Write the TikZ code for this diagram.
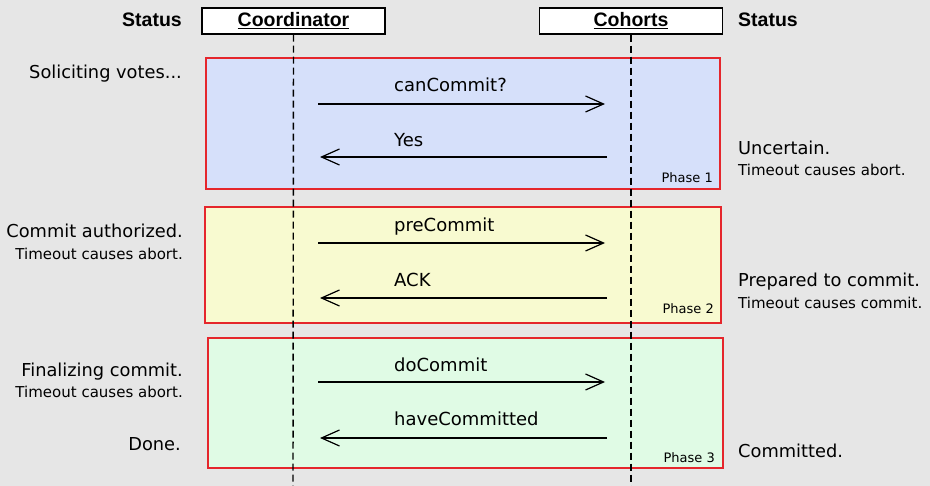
\documentclass[tikz,border=0pt]{standalone}
\usepackage{fontspec}
\setmainfont{DejaVu Sans}
\newfontfamily\headfont{Liberation Sans}
\usetikzlibrary{arrows.meta, positioning}
\definecolor{bggray}{HTML}{E6E6E6}
\definecolor{phasered}{HTML}{E5262C}
\definecolor{phaseblue}{HTML}{D6E0FA}
\definecolor{phaseyellow}{HTML}{F8FAD0}
\definecolor{phasegreen}{HTML}{E0FBE5}

\begin{document}
\begin{tikzpicture}[x=1pt, y=-1pt,
  role/.style={draw, fill=white, line width=1.3pt, minimum width=183pt, minimum height=26pt, inner sep=0pt, font=\headfont\bfseries\fontsize{19.5}{20}\selectfont},
  heading/.style={inner sep=0pt, font=\headfont\bfseries\fontsize{19.5}{20}\selectfont},
  phase/.style={draw=phasered, line width=1.6pt, anchor=north west, inner sep=0pt},
  phasetag/.style={inner sep=0pt, anchor=base east, font=\fontsize{13}{14}\selectfont},
  msg/.style={line width=1.2pt, -{Straight Barb[length=18pt, width=16pt]}},
  msgtext/.style={inner sep=0pt, anchor=base west, font=\fontsize{18}{20}\selectfont},
  status/.style={inner sep=0pt, font=\fontsize{17.8}{20}\selectfont},
  note/.style={inner sep=0pt, font=\fontsize{15}{16}\selectfont},
  lifeline/.style={line width=1.4pt, dash pattern=on 7pt off 4pt}]

\fill[bggray] (0,0) rectangle (930,486);
\useasboundingbox (0,0) rectangle (930,486);

% phases
\node[phase, fill=phaseblue, minimum width=514pt, minimum height=131pt] (ph1) at (205,57) {};
\node[phase, fill=phaseyellow, minimum width=516pt, minimum height=116pt] (ph2) at (204,206) {};
\node[phase, fill=phasegreen, minimum width=515pt, minimum height=130pt] (ph3) at (207,337) {};
\node[phasetag] (tag1) at (713,183) {Phase 1};
\node[phasetag] (tag2) at (714,314) {Phase 2};
\node[phasetag] (tag3) at (715,463) {Phase 3};

% roles and lifelines
\node[role] (coord) at (293.5,21) {\underline{Coordinator}};
\node[role] (cohort) at (631,21) {\underline{Cohorts}};
\node[heading, anchor=base east] (lhead) at (182,27) {Status};
\node[heading, anchor=base west] (rhead) at (738,27) {Status};
\coordinate (coordend) at (293,486);
\coordinate (cohortend) at (631,486);
\draw[lifeline] (coord.south) -- (coordend);
\draw[lifeline] (cohort.south) -- (cohortend);

% messages
\coordinate (m1a) at (318,104); \coordinate (m1b) at (605,104);
\coordinate (m2a) at (607,157); \coordinate (m2b) at (320,157);
\coordinate (m3a) at (318,243); \coordinate (m3b) at (605,243);
\coordinate (m4a) at (607,298); \coordinate (m4b) at (320,298);
\coordinate (m5a) at (318,382); \coordinate (m5b) at (605,382);
\coordinate (m6a) at (607,438); \coordinate (m6b) at (320,438);
\path[msg]
  (m1a) edge (m1b)
  (m2a) edge (m2b)
  (m3a) edge (m3b)
  (m4a) edge (m4b)
  (m5a) edge (m5b)
  (m6a) edge (m6b);
\node[msgtext] (lcan) at (394,92) {canCommit?};
\node[msgtext] (lyes) at (394,147) {Yes};
\node[msgtext] (lpre) at (394,232) {preCommit};
\node[msgtext] (lack) at (394,287) {ACK};
\node[msgtext] (ldo) at (394,372) {doCommit};
\node[msgtext] (lhave) at (394,426) {haveCommitted};

% coordinator status
\node[status, anchor=base east] (cs1) at (182,79) {Soliciting votes...};
\node[status, anchor=base east] (cs2) at (183,238) {Commit authorized.};
\node[note, anchor=base east] (cn2) at (183,260) {Timeout causes abort.};
\node[status, anchor=base east] (cs3) at (183,377) {Finalizing commit.};
\node[note, anchor=base east] (cn3) at (183,398) {Timeout causes abort.};
\node[status, anchor=base east] (cs4) at (181,450) {Done.};

% cohort status
\node[status, anchor=base west] (hs1) at (738,155) {Uncertain.};
\node[note, anchor=base west] (hn1) at (738,176) {Timeout causes abort.};
\node[status, anchor=base west] (hs2) at (738,287) {Prepared to commit.};
\node[note, anchor=base west] (hn2) at (738,309) {Timeout causes commit.};
\node[status, anchor=base west] (hs3) at (738,458) {Committed.};
\end{tikzpicture}
\end{document}
